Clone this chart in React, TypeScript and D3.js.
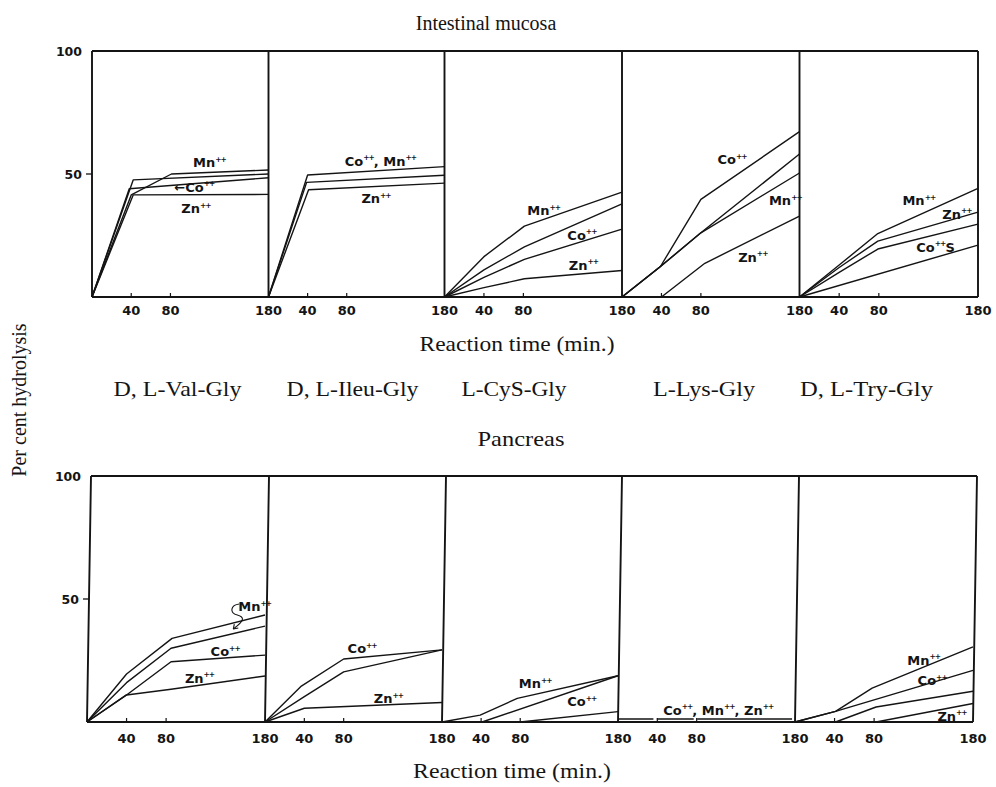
import React from "react";
import * as d3 from "d3";

type Pt = [number, number] | null;
type Series = { ion: string; pts: Pt[] };
type Label = { text: string; t: number; v: number };

// ---------- data ----------
const peptides = ["D, L-Val-Gly", "D, L-Ileu-Gly", "L-CyS-Gly", "L-Lys-Gly", "D, L-Try-Gly"];
const timeTicks = [40, 80];
const timeMax = 180;
const yTickValues = [50, 100];

// Intestinal mucosa (per cent hydrolysis vs. minutes)
const mucosaVal: Series[] = [
  { ion: "Mn", pts: [[0, 0], [40, 41.5], [81, 50], [180, 51.6]] },
  { ion: "none", pts: [[0, 0], [42, 47.6], [180, 50]] },
  { ion: "Co", pts: [[0, 0], [38, 44], [180, 48.5]] },
  { ion: "Zn", pts: [[0, 0], [42, 41.5], [180, 41.7]] },
];
const mucosaIleu: Series[] = [
  { ion: "Co,Mn", pts: [[0, 0], [40, 49.6], [180, 53]] },
  { ion: "none", pts: [[0, 0], [39, 46.6], [180, 49.5]] },
  { ion: "Zn", pts: [[0, 0], [41, 43.6], [180, 46.3]] },
];
const mucosaCyS: Series[] = [
  { ion: "Mn", pts: [[0, 0], [40, 16.4], [81, 28.8], [180, 42.6]] },
  { ion: "none", pts: [[0, 0], [40, 11], [81, 20.4], [180, 37.9]] },
  { ion: "Co", pts: [[0, 0], [40, 8], [81, 15.3], [180, 27.6]] },
  { ion: "Zn", pts: [[0, 0], [40, 3.8], [81, 7.4], [180, 10.8]] },
];
const mucosaLys: Series[] = [
  { ion: "Co", pts: [[0, 0], [39, 12.4], [80, 39.7], [180, 67.2]] },
  { ion: "none", pts: [[0, 0], [39, 12.4], [80, 26.1], [180, 58.1]] },
  { ion: "Mn", pts: [[0, 0], [39, 12.4], [80, 26.1], [180, 50.4]] },
  { ion: "Zn", pts: [[40, 0], [84, 13.7], [180, 32.9]] },
];
const mucosaTry: Series[] = [
  { ion: "Mn", pts: [[0, 0], [40, 13], [79, 25.8], [180, 44.2]] },
  { ion: "Zn", pts: [[0, 0], [40, 12], [79, 22.7], [180, 34.5]] },
  { ion: "Co", pts: [[0, 0], [40, 10], [79, 19.5], [180, 29.6]] },
  { ion: "none", pts: [[0, 0], [180, 21.1]] },
];

// Pancreas
const pancVal: Series[] = [
  { ion: "none", pts: [[0, 0], [40, 19.5], [86, 34], [180, 43.5]] },
  { ion: "Mn", pts: [[0, 0], [40, 16], [85, 30], [180, 39]] },
  { ion: "Co", pts: [[0, 0], [40, 11], [85, 24.5], [180, 27.2]] },
  { ion: "Zn", pts: [[0, 0], [40, 11], [85, 13.3], [180, 18.7]] },
];
const pancIleu: Series[] = [
  { ion: "Co", pts: [[0, 0], [37, 14.6], [80, 25.6], [180, 29.3]] },
  { ion: "none", pts: [[0, 0], [40, 10.3], [80, 20.4], [180, 29.3]] },
  { ion: "Zn", pts: [[0, 0], [40, 5.6], [180, 7.9]] },
];
const pancCyS: Series[] = [
  { ion: "Mn", pts: [[0, 0], [39, 2.8], [77, 9.6], [180, 18.8]] },
  { ion: "Co", pts: [[41, 0], [180, 18.8]] },
  { ion: "Zn", pts: [[80, 0], [180, 4.2]] },
];
const pancLys: Series[] = [
  { ion: "Co,Mn,Zn", pts: [[0, 1.2], [36, 1.2], null, [39.5, 1.2], [77, 1.2], null, [80.5, 1.2], [177, 1.2]] },
];
const pancTry: Series[] = [
  { ion: "Mn", pts: [[0, 0], [41, 4.3], [78, 13.8], [180, 30.5]] },
  { ion: "Co", pts: [[0, 0], [41, 4.3], [180, 21]] },
  { ion: "none", pts: [[41, 0], [82, 6.1], [180, 12.5]] },
  { ion: "Zn", pts: [[82, 0], [180, 7.5]] },
];

// curve labels ("^" = ++ superscript), anchored in data units
const mucosaValLabels: Label[] = [
  { text: "Mn^", t: 103, v: 52.8 },
  { text: "←Co^", t: 84, v: 42.7 },
  { text: "Zn^", t: 91, v: 34.1 },
];
const mucosaIleuLabels: Label[] = [
  { text: "Co^, Mn^", t: 78, v: 53.3 },
  { text: "Zn^", t: 95, v: 38.2 },
];
const mucosaCySLabels: Label[] = [
  { text: "Mn^", t: 84, v: 33.2 },
  { text: "Co^", t: 124.6, v: 23.2 },
  { text: "Zn^", t: 126, v: 11 },
];
const mucosaLysLabels: Label[] = [
  { text: "Co^", t: 96.8, v: 54 },
  { text: "Mn^", t: 149, v: 37.2 },
  { text: "Zn^", t: 117.8, v: 14.4 },
];
const mucosaTryLabels: Label[] = [
  { text: "Mn^", t: 103.8, v: 37.2 },
  { text: "Zn^", t: 144, v: 31.9 },
  { text: "Co^S", t: 117.8, v: 18.4 },
];
const pancValLabels: Label[] = [
  { text: "Mn^", t: 153, v: 45.1 },
  { text: "Co^", t: 125, v: 26.8 },
  { text: "Zn^", t: 99, v: 15.9 },
];
const pancIleuLabels: Label[] = [
  { text: "Co^", t: 84, v: 28 },
  { text: "Zn^", t: 110.7, v: 7.7 },
];
const pancCySLabels: Label[] = [
  { text: "Mn^", t: 78.5, v: 13.8 },
  { text: "Co^", t: 128, v: 6.5 },
];
const pancLysLabels: Label[] = [{ text: "Co^, Mn^, Zn^", t: 46, v: 3 }];
const pancTryLabels: Label[] = [
  { text: "Mn^", t: 113.6, v: 23.2 },
  { text: "Co^", t: 124, v: 15 },
  { text: "Zn^", t: 144, v: 0.6 },
];

const mucosaPanels = [mucosaVal, mucosaIleu, mucosaCyS, mucosaLys, mucosaTry];
const mucosaLabels = [mucosaValLabels, mucosaIleuLabels, mucosaCySLabels, mucosaLysLabels, mucosaTryLabels];
const pancPanels = [pancVal, pancIleu, pancCyS, pancLys, pancTry];
const pancLabels = [pancValLabels, pancIleuLabels, pancCySLabels, pancLysLabels, pancTryLabels];

// ---------- layout ----------
const W = 996;
const H = 787;
const serif = "'Liberation Serif', 'Times New Roman', serif";
const sans = "'DejaVu Sans', sans-serif";
const ink = "#141414";

type Row = { edges: number[]; top: number; bottom: number; slant: number; tickBase: number };
const topRow: Row = { edges: [92, 268.5, 444.5, 622, 799.5, 978], top: 51, bottom: 297, slant: 0, tickBase: 315 };
const botRow: Row = { edges: [87, 265, 442, 618, 795, 973], top: 476, bottom: 722, slant: 4, tickBase: 743 };
const peptideX = [177.5, 352.5, 514, 704, 866.5];
const peptideW = [128, 132, 105, 102, 133];

function CurveLabel({ x, y, text }: { x: number; y: number; text: string }) {
  const segs = text.split("^");
  return (
    <text x={x} y={y} fontFamily={sans} fontSize={13} fontWeight="bold" fill={ink}>
      {segs.map((s, i) => (
        <React.Fragment key={i}>
          {i > 0 && (
            <tspan dy={-5.5} fontSize={7.5} letterSpacing={-1}>
              ++
            </tspan>
          )}
          {s && <tspan dy={i > 0 ? 5.5 : 0}>{s}</tspan>}
        </React.Fragment>
      ))}
    </text>
  );
}

function PanelRow({ row, panels, labels, curl }: { row: Row; panels: Series[][]; labels: Label[][]; curl?: boolean }) {
  const y = d3.scaleLinear().domain([0, 100]).range([row.bottom, row.top]);
  const e = row.edges;
  const s = row.slant;
  const line = d3
    .line<Pt>()
    .defined((d) => d !== null)
    .x((d) => (d as [number, number])[0])
    .y((d) => (d as [number, number])[1]);

  const frame =
    `M${e[0]},${row.bottom} L${e[5]},${row.bottom} ` +
    `M${e[0] + s},${row.top} L${e[5] + s},${row.top} ` +
    e.map((x) => `M${x},${row.bottom} L${x + s},${row.top}`).join(" ");

  return (
    <g>
      <path d={frame} fill="none" stroke={ink} strokeWidth={1.9} />
      {yTickValues.map((v) => {
        const yy = y(v);
        const fx = e[0] + s * (v / 100);
        return (
          <g key={v}>
            {v < 100 && <line x1={fx - 6} x2={fx} y1={yy} y2={yy} stroke={ink} strokeWidth={1.3} />}
            <text x={fx - 10} y={yy + 5} textAnchor="end" fontFamily={sans} fontWeight="bold" fontSize={12.5} fill={ink}>
              {v}
            </text>
          </g>
        );
      })}
      {panels.map((series, i) => {
        const x = d3.scaleLinear().domain([0, timeMax]).range([e[i], e[i + 1]]);
        return (
          <g key={i}>
            {timeTicks.map((t) => (
              <g key={t}>
                <line x1={x(t)} x2={x(t)} y1={row.bottom} y2={row.bottom - 4} stroke={ink} strokeWidth={1.2} />
                <text x={x(t)} y={row.tickBase} textAnchor="middle" fontFamily={sans} fontWeight="bold" fontSize={13} fill={ink}>
                  {t}
                </text>
              </g>
            ))}
            <text x={x(timeMax)} y={row.tickBase} textAnchor="middle" fontFamily={sans} fontWeight="bold" fontSize={13} fill={ink}>
              {timeMax}
            </text>
            {series.map((sr) => {
              const pts: Pt[] = sr.pts.map((p) => (p ? [x(p[0]), y(p[1])] : null));
              return <path key={sr.ion} d={line(pts) || ""} fill="none" stroke={ink} strokeWidth={1.4} strokeLinejoin="round" />;
            })}
            {labels[i].map((lb, j) => (
              <CurveLabel key={j} x={x(lb.t)} y={y(lb.v)} text={lb.text} />
            ))}
            {curl && i === 0 && (
              <g transform={`translate(${x(labels[0][0].t)},${y(labels[0][0].v)})`} fill="none" stroke={ink} strokeWidth={1.1}>
                <path d="M1,-7 C-8,-6 -9,2 -1,4 C6,6 7,9 -5,18" />
                <path d="M-5,18 L-4,13 M-5,18 L0,17" />
              </g>
            )}
          </g>
        );
      })}
    </g>
  );
}

export default function App() {
  return (
    <svg width={W} height={H} viewBox={`0 0 ${W} ${H}`} style={{ position: "absolute", left: 0, top: 0, background: "#fff" }}>
      <rect width={W} height={H} fill="#fff" />
      <text x={486} y={30} textAnchor="middle" fontFamily={serif} fontSize={20} fill={ink}>
        Intestinal mucosa
      </text>
      <PanelRow row={topRow} panels={mucosaPanels} labels={mucosaLabels} />
      <text x={517} y={351} textAnchor="middle" fontFamily={serif} fontSize={22} textLength={195} lengthAdjust="spacingAndGlyphs" fill={ink}>
        Reaction time (min.)
      </text>
      {peptides.map((p, i) => (
        <text key={p} x={peptideX[i]} y={396} textAnchor="middle" fontFamily={serif} fontSize={22} textLength={peptideW[i]} lengthAdjust="spacingAndGlyphs" fill={ink}>
          {p}
        </text>
      ))}
      <text x={521} y={446} textAnchor="middle" fontFamily={serif} fontSize={22} textLength={87} lengthAdjust="spacingAndGlyphs" fill={ink}>
        Pancreas
      </text>
      <PanelRow row={botRow} panels={pancPanels} labels={pancLabels} curl />
      <text x={512} y={778} textAnchor="middle" fontFamily={serif} fontSize={22} textLength={198} lengthAdjust="spacingAndGlyphs" fill={ink}>
        Reaction time (min.)
      </text>
      <text transform="translate(26,400) rotate(-90)" textAnchor="middle" fontFamily={serif} fontSize={20} fill={ink}>
        Per cent hydrolysis
      </text>
    </svg>
  );
}
